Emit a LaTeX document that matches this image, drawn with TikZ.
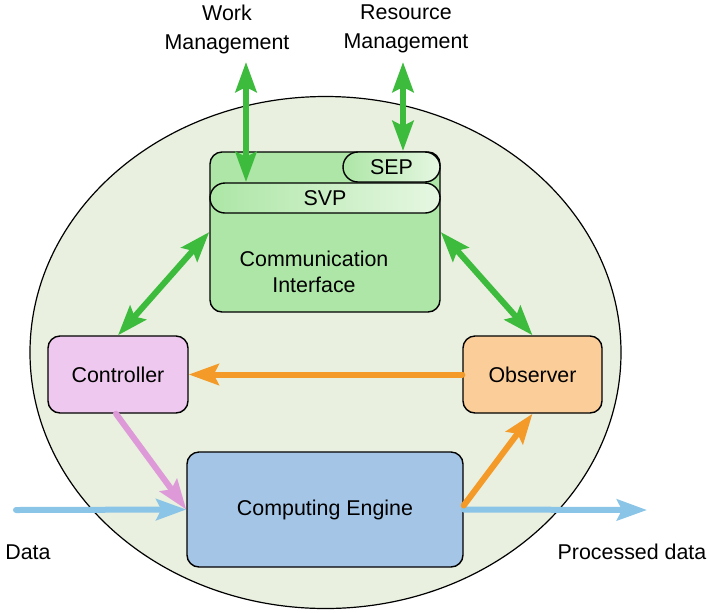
\documentclass[tikz,border=0pt]{standalone}
\usepackage{fontspec}
\setmainfont{Liberation Sans}
\usetikzlibrary{arrows.meta,calc}
\definecolor{bgell}{HTML}{E9F0DF}
\definecolor{grnarr}{HTML}{3CBB3C}
\definecolor{cifill}{HTML}{ADE6A6}
\definecolor{pillw}{HTML}{E6F7E2}
\definecolor{ctlfill}{HTML}{EEC8EE}
\definecolor{obsfill}{HTML}{FBCD98}
\definecolor{engfill}{HTML}{A4C5E6}
\definecolor{orgarr}{HTML}{F39A28}
\definecolor{pnkarr}{HTML}{DE9AD8}
\definecolor{bluarr}{HTML}{8AC4E6}
\begin{document}
\begin{tikzpicture}[x=0.5pt,y=-0.5pt,
    font=\fontsize{10.7}{14}\selectfont,
    >={Stealth[length=15pt,width=10.5pt,inset=2.5pt]},
    box/.style={draw=black, line width=0.7pt, rounded corners=6pt, inner sep=0pt},
    pill/.style={draw=black, line width=0.7pt, rounded corners=7.5pt, inner sep=0pt,
        minimum height=15pt, left color=cifill, right color=pillw},
    link/.style={line width=3pt, line cap=round}]
    \useasboundingbox (0,0) rectangle (707,612);

    \draw[fill=bgell, line width=0.6pt] (325.5,352.5) ellipse [x radius=147.75pt, y radius=128pt];

    \node[box, fill=cifill, minimum width=115pt, minimum height=80pt] (ci) at (325,232) {};
    \node[pill, minimum width=48.5pt] (sep) at (391.5,167) {SEP};
    \node[pill, minimum width=115pt] (svp) at (325,198) {SVP};
    \node[align=center, font=\fontsize{10.7}{13}\selectfont] (citxt) at (314,272) {Communication\\Interface};

    \node[box, fill=ctlfill, minimum width=70pt, minimum height=38.5pt] (ctl) at (118,374.5) {Controller};
    \node[box, fill=obsfill, minimum width=69.5pt, minimum height=38.5pt] (obs) at (532.5,374.5) {Observer};
    \node[box, fill=engfill, minimum width=138pt, minimum height=57.5pt] (eng) at (325,509.5) {Computing Engine};

    \node[align=center, font=\fontsize{10.7}{14.5}\selectfont] (work) at (227,29) {Work\\Management};
    \node[align=center, font=\fontsize{10.7}{14.5}\selectfont] (res) at (406,29) {Resource\\Management};
    \node (data) at (28,552) {Data};
    \node (out) at (632,552) {Processed data};

    \coordinate (wtop) at (246,62);
    \coordinate (wbot) at (246,182);
    \coordinate (rtop) at (403,62);
    \coordinate (rbot) at (403,151);
    \coordinate (din) at (16,510);
    \coordinate (dout) at (647,510);

    \draw[link, grnarr, <->] (wtop) -- (wbot);
    \draw[link, grnarr, <->] (rtop) -- (rbot);
    \draw[link, grnarr, <->] (ci.west) -- (ctl.north);
    \draw[link, grnarr, <->] (ci.east) -- (obs.north);

    \draw[link, bluarr, ->] (din) -- (eng.west);
    \draw[link, bluarr, ->] (eng.east) -- (dout);
    \draw[link, orgarr, ->] (obs.west) -- (ctl.east);
    \draw[link, pnkarr, ->] ([xshift=-1pt]ctl.south) -- (eng.west);
    \draw[link, orgarr, ->] ([yshift=2pt]eng.east) -- (obs.south);
\end{tikzpicture}
\end{document}
